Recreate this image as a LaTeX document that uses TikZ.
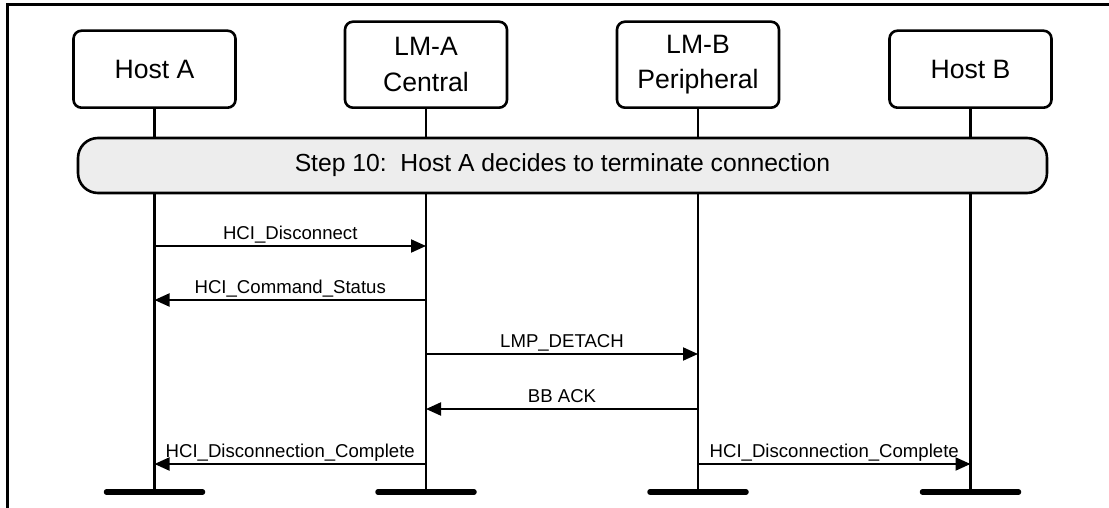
\documentclass[tikz,border=0pt]{standalone}
\usepackage{fontspec}
\setmainfont{Liberation Sans}
\setsansfont{Liberation Sans}
\usepackage{xcolor}
\usetikzlibrary{arrows.meta, calc}
\definecolor{cStep}{HTML}{EDEDED}
\definecolor{cLine}{HTML}{000000}
\tikzset{
  entity/.style    ={draw=cLine, rounded corners=4pt, minimum width=81pt, minimum height=38.5pt,
                     align=center, anchor=south, line width=1.3pt, inner sep=1pt,
                     font=\sffamily\fontsize{13.3}{17.75}\selectfont},
  entity2/.style   ={entity, minimum height=43pt},
  stepbar/.style   ={draw=cLine, fill=cStep, rounded corners=10pt, line width=1.3pt,
                     minimum width=484.5pt, minimum height=27.5pt,
                     font=\sffamily\fontsize{12.35}{15}\selectfont},
  lifeline/.style  ={line width=1.3pt, draw=cLine},
  endbar/.style    ={line width=2.75pt, line cap=round, draw=cLine},
  msg/.style       ={-{Triangle[length=7.5pt, width=6.5pt]}, line width=1pt, draw=cLine},
  msglabel/.style  ={font=\sffamily\fontsize{9.3}{11}\selectfont, inner sep=0pt,
                     anchor=base, yshift=3.5pt},
  frame/.style     ={line width=1.5pt, draw=cLine}
}

\begin{document}
\begin{tikzpicture}[x=0.5pt, y=-0.5pt]

  \useasboundingbox (0,0) rectangle (1109,508);

  % ====================== Frame ======================
  \draw[frame] (7,508) -- (7,5) -- (1109,5);

  % ====================== Entities ======================
  \node[entity]  (hostA) at (154.5,109) {Host A};
  \node[entity2] (lmA)   at (426,109)   {LM-A\\Central};
  \node[entity2] (lmB)   at (698,109)   {LM-B\\Peripheral};
  \node[entity]  (hostB) at (970.5,109) {Host B};

  % lifeline ends
  \coordinate (endA)  at (154.5,492);
  \coordinate (endLA) at (426,492);
  \coordinate (endLB) at (698,492);
  \coordinate (endB)  at (970.5,492);

  \draw[lifeline] (hostA.south) -- (endA);
  \draw[lifeline] (lmA.south)   -- (endLA);
  \draw[lifeline] (lmB.south)   -- (endLB);
  \draw[lifeline] (hostB.south) -- (endB);

  % ====================== Step banner ======================
  \node[stepbar] (step) at (562.5,165.5) {Step 10:\ \ Host A decides to terminate connection};

  % ====================== Messages ======================
  \coordinate (m1) at (0,246);
  \coordinate (m2) at (0,300);
  \coordinate (m3) at (0,354);
  \coordinate (m4) at (0,409);
  \coordinate (m5) at (0,464);

  \draw[msg] (hostA |- m1) -- (lmA |- m1)
        node[midway, msglabel] {HCI\_Disconnect};
  \draw[msg] (lmA |- m2) -- (hostA |- m2)
        node[midway, msglabel] {HCI\_Command\_Status};
  \draw[msg] (lmA |- m3) -- (lmB |- m3)
        node[midway, msglabel] {LMP\_DETACH};
  \draw[msg] (lmB |- m4) -- (lmA |- m4)
        node[midway, msglabel] {BB ACK};
  \draw[msg] (lmA |- m5) -- (hostA |- m5)
        node[midway, msglabel] {HCI\_Disconnection\_Complete};
  \draw[msg] (lmB |- m5) -- (hostB |- m5)
        node[midway, msglabel] {HCI\_Disconnection\_Complete};

  % ====================== End bars ======================
  \foreach \e in {endA, endLA, endLB, endB}
    \draw[endbar] ([xshift=-24pt]\e) -- ([xshift=24pt]\e);

\end{tikzpicture}
\end{document}
